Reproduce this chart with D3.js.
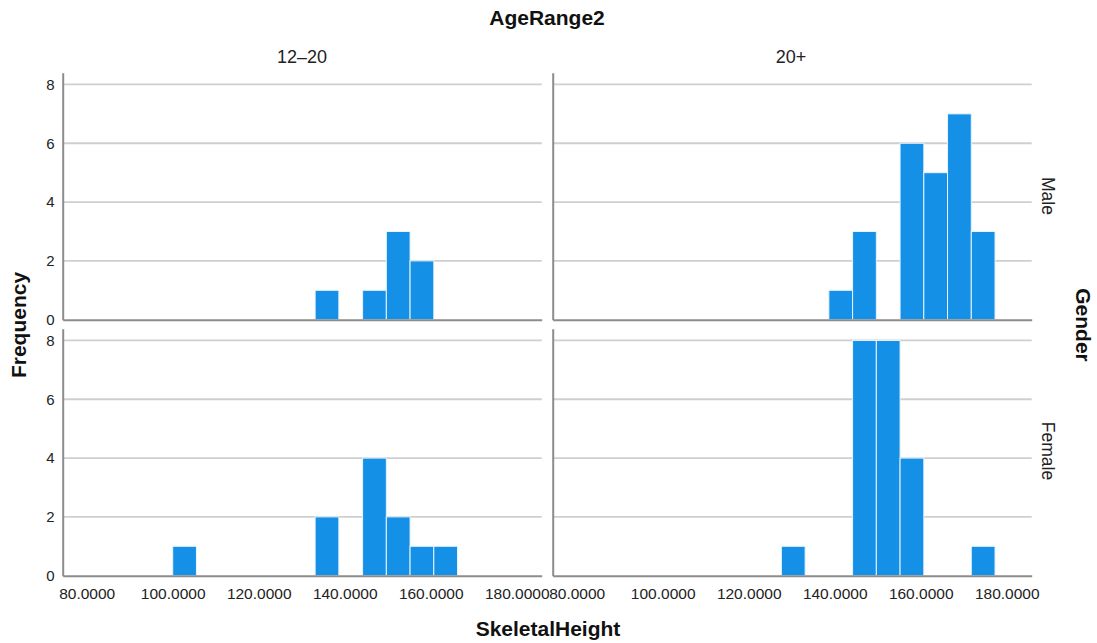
<!DOCTYPE html>
<html>
<head>
<meta charset="utf-8">
<script src="https://cdn.jsdelivr.net/npm/d3@7"></script>
<style>
  html, body { margin: 0; padding: 0; background: #ffffff; }
  svg { display: block; }
</style>
</head>
<body>
<svg id="chart" width="1097" height="643"></svg>
<script>
// ---- data ----
const columnLabels = ["12–20", "20+"];
const rowLabels = ["Male", "Female"];
const binStarts = [100.00, 105.52, 111.04, 116.56, 122.08, 127.60, 133.12, 138.64, 144.16, 149.68, 155.20, 160.72, 166.24, 171.76];
const binWidth = 5.52;
const maleYouth   = [0, 0, 0, 0, 0, 0, 1, 0, 1, 3, 2, 0, 0, 0];
const maleAdult   = [0, 0, 0, 0, 0, 0, 0, 1, 3, 0, 6, 5, 7, 3];
const femaleYouth = [1, 0, 0, 0, 0, 0, 2, 0, 4, 2, 1, 1, 0, 0];
const femaleAdult = [0, 0, 0, 0, 0, 1, 0, 0, 8, 8, 4, 0, 0, 1];
const xTickValues = [80, 100, 120, 140, 160, 180];
const yTickValues = [0, 2, 4, 6, 8];

const panelCounts = [
  [maleYouth, maleAdult],
  [femaleYouth, femaleAdult]
];

// ---- layout ----
const svg = d3.select("#chart");
const colX = [[62.7, 541.7], [552.7, 1031.7]];
const rowY = [[72.7, 319.7], [328.7, 575.7]];
const xDomain = [74.42, 185.81];
const yDomain = [0, 8.4];

const barColor = "#1490e6";
const gridColor = "#cfcfcf";
const axisColor = "#8c8c8c";
const font = "'Liberation Sans', Arial, Helvetica, sans-serif";

for (let r = 0; r < 2; r++) {
  for (let c = 0; c < 2; c++) {
    const x = d3.scaleLinear().domain(xDomain).range(colX[c]);
    const y = d3.scaleLinear().domain(yDomain).range([rowY[r][1], rowY[r][0]]);
    const g = svg.append("g");

    // gridlines
    g.selectAll("line.grid")
      .data(yTickValues.filter(v => v > 0))
      .enter().append("line")
      .attr("x1", colX[c][0]).attr("x2", colX[c][1])
      .attr("y1", d => y(d)).attr("y2", d => y(d))
      .attr("stroke", gridColor).attr("stroke-width", 1.8);

    // bars
    const data = binStarts.map((s, i) => ({ s, v: panelCounts[r][c][i] })).filter(d => d.v > 0);
    g.selectAll("rect.bar")
      .data(data)
      .enter().append("rect")
      .attr("x", d => x(d.s))
      .attr("width", d => x(d.s + binWidth) - x(d.s))
      .attr("y", d => y(d.v))
      .attr("height", d => y(0) - y(d.v))
      .attr("fill", barColor)
      .attr("stroke", "#e8f3fd")
      .attr("stroke-width", 1);

    // y axis (labels only on left column)
    const yAxis = d3.axisLeft(y).tickValues(yTickValues).tickSize(0).tickPadding(8).tickFormat(d3.format("d"));
    const ya = g.append("g").attr("transform", `translate(${colX[c][0]},0)`).call(yAxis);
    ya.select(".domain").attr("stroke", axisColor).attr("stroke-width", 2);
    ya.selectAll("text").attr("font-family", font).attr("font-size", 15).attr("fill", "#222");
    if (c === 1) ya.selectAll(".tick text").remove();

    // x axis (labels only on bottom row)
    const xAxis = d3.axisBottom(x).tickValues(xTickValues).tickSize(0).tickPadding(12).tickFormat(d3.format(".4f"));
    const xa = g.append("g").attr("transform", `translate(0,${y(0)})`).call(xAxis);
    xa.select(".domain").attr("stroke", axisColor).attr("stroke-width", 2);
    xa.selectAll("text").attr("font-family", font).attr("font-size", 15.5).attr("fill", "#222");
    if (r === 0) xa.selectAll(".tick text").remove();
  }
}

// column headers
svg.selectAll("text.colhead")
  .data(columnLabels)
  .enter().append("text")
  .attr("x", (d, i) => (i === 0 ? 302 : 791))
  .attr("y", 63)
  .attr("text-anchor", "middle")
  .attr("font-family", font).attr("font-size", 18).attr("fill", "#222")
  .text(d => d);

// row headers
svg.selectAll("text.rowhead")
  .data(rowLabels)
  .enter().append("text")
  .attr("transform", (d, i) => `translate(1042,${i === 0 ? 196 : 451}) rotate(90)`)
  .attr("text-anchor", "middle")
  .attr("font-family", font).attr("font-size", 17.5).attr("fill", "#222")
  .text(d => d);

// titles
svg.append("text")
  .attr("x", 547).attr("y", 25)
  .attr("text-anchor", "middle")
  .attr("font-family", font).attr("font-weight", "bold").attr("font-size", 21).attr("fill", "#111")
  .text("AgeRange2");

svg.append("text")
  .attr("x", 548).attr("y", 636)
  .attr("text-anchor", "middle")
  .attr("font-family", font).attr("font-weight", "bold").attr("font-size", 21).attr("fill", "#111")
  .text("SkeletalHeight");

svg.append("text")
  .attr("transform", "translate(26,325) rotate(-90)")
  .attr("text-anchor", "middle")
  .attr("font-family", font).attr("font-weight", "bold").attr("font-size", 21).attr("fill", "#111")
  .text("Frequency");

svg.append("text")
  .attr("transform", "translate(1076,325) rotate(90)")
  .attr("text-anchor", "middle")
  .attr("font-family", font).attr("font-weight", "bold").attr("font-size", 21).attr("fill", "#111")
  .text("Gender");
</script>
</body>
</html>
